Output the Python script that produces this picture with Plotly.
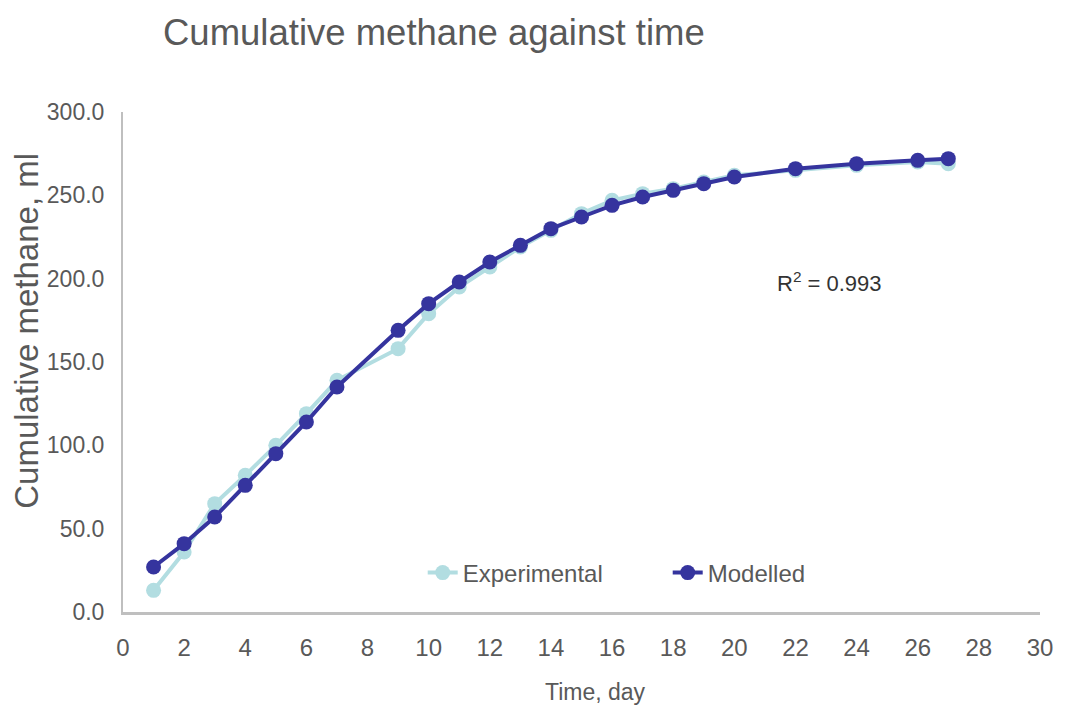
import plotly.graph_objects as go

days = [1, 2, 3, 4, 5, 6, 7, 9, 10, 11, 12, 13, 14, 15, 16, 17, 18, 19, 20, 22, 24, 26, 27]
experimental = [13, 36, 65, 82, 100, 119, 139, 158, 179, 195, 207, 219, 229, 239, 247, 251, 254, 258, 262, 265, 268, 270, 269]
modelled = [27, 41, 57, 76, 95, 114, 135, 169, 185, 198, 210, 220, 230, 237, 244, 249, 253, 257, 261, 266, 269, 271, 272]

x_ticks = list(range(0, 31, 2))
y_ticks = [0, 50, 100, 150, 200, 250, 300]

FONT = "Liberation Sans, Arial, sans-serif"
GREY = "#595959"

# plot area in pixels
L, R, T, B = 123, 1047, 112, 612
W, H = 1065, 728


def px_to_paper(px, py):
    return (px - L) / (R - L), (B - py) / (B - T)


fig = go.Figure()
fig.add_trace(go.Scatter(
    x=days, y=experimental, name="Experimental", mode="lines+markers",
    line=dict(color="#B2DDE1", width=4),
    marker=dict(color="#B2DDE1", size=15),
))
fig.add_trace(go.Scatter(
    x=days, y=modelled, name="Modelled", mode="lines+markers",
    line=dict(color="#35349E", width=4),
    marker=dict(color="#35349E", size=15),
))

xt, yt = px_to_paper(599, 692)
xy, yy = px_to_paper(25, 331)
lx, ly = px_to_paper(425, 573)

fig.update_layout(
    width=W, height=H,
    margin=dict(l=L, r=W - R, t=T, b=H - B),
    paper_bgcolor="white", plot_bgcolor="white",
    font=dict(family=FONT, color=GREY, size=24),
    title=dict(text="Cumulative methane against time", x=163 / W, xanchor="left",
               xref="container", y=1 - 32 / H, yanchor="middle", yref="container",
               font=dict(family=FONT, size=36.5, color=GREY)),
    showlegend=True,
    legend=dict(orientation="h", x=lx, xanchor="left", y=ly, yanchor="middle",
                bgcolor="rgba(0,0,0,0)",
                font=dict(family=FONT, size=24, color=GREY),
                entrywidth=200, itemwidth=30),
    xaxis=dict(range=[0, 30], tickvals=x_ticks, ticktext=[str(v) for v in x_ticks],
               showgrid=False, zeroline=False, showline=True, linecolor="#BFBFBF",
               linewidth=3, ticks="", ticklabelstandoff=12,
               tickfont=dict(family=FONT, size=24, color=GREY)),
    yaxis=dict(range=[0, 300], tickvals=y_ticks, ticktext=[f"{v:.1f}" for v in y_ticks],
               showgrid=False, zeroline=False, showline=True, linecolor="#BFBFBF",
               linewidth=2, ticks="", ticklabelstandoff=12,
               tickfont=dict(family=FONT, size=23, color=GREY)),
    annotations=[
        dict(text="R<sup>2</sup> = 0.993", x=23.1, y=198, xref="x", yref="y",
             showarrow=False, font=dict(family=FONT, size=22, color="#333333")),
        dict(text="Time, day", x=xt, y=yt, xref="paper", yref="paper",
             showarrow=False, xanchor="center", yanchor="middle",
             font=dict(family=FONT, size=23, color=GREY)),
        dict(text="Cumulative methane, ml", x=xy, y=yy, xref="paper", yref="paper",
             showarrow=False, textangle=-90, xanchor="center", yanchor="middle",
             font=dict(family=FONT, size=33, color=GREY)),
    ],
)

fig.write_html("out.html")
